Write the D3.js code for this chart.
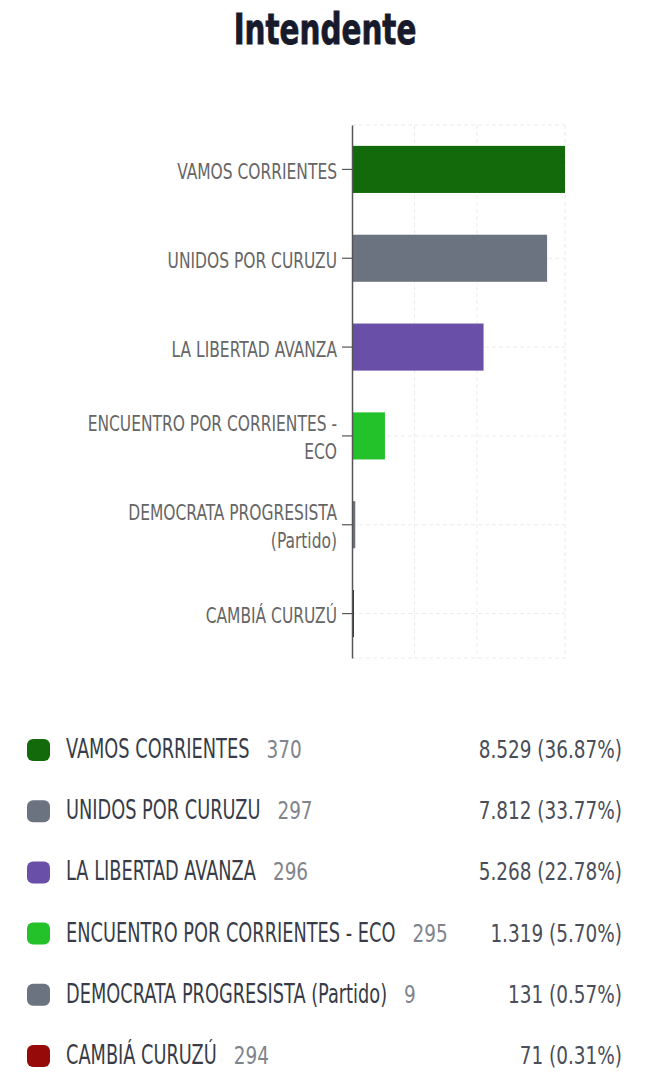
<!DOCTYPE html>
<html>
<head>
<meta charset="utf-8">
<script src="https://cdn.jsdelivr.net/npm/d3@7"></script>
<style>
  body { margin: 0; background: #fff; }
  text { font-family: "DejaVu Sans Condensed", "Liberation Sans Narrow", sans-serif; }
</style>
</head>
<body>
<svg id="chart" width="653" height="1084"></svg>
<script>
// chart data
var parties = ["VAMOS CORRIENTES", "UNIDOS POR CURUZU", "LA LIBERTAD AVANZA",
  "ENCUENTRO POR CORRIENTES - ECO", "DEMOCRATA PROGRESISTA (Partido)", "CAMBIÁ CURUZÚ"];
var lists = ["370", "297", "296", "295", "9", "294"];
var votes = [8529, 7812, 5268, 1319, 131, 71];
var percents = [36.87, 33.77, 22.78, 5.70, 0.57, 0.31];
var colors = ["#136a0b", "#6b7280", "#6a4fa9", "#23c22b", "#6b7280", "#960a0a"];
var gridTicks = [2500, 5000];

var svg = d3.select('#chart');

// number formats: thousands with dot, percent with dot decimals
var esLocale = d3.formatLocale({decimal: ',', thousands: '.', grouping: [3], currency: ['$', '']});
var fmtVotes = esLocale.format(',d');
var fmtPct = d3.format('.2f');

// no narrow font here, so squeeze the condensed one horizontally
function squeeze(k) { return ' scale(' + k + ',1)'; }

// title
svg.append('text')
  .attr('transform', 'translate(325,44)' + squeeze(0.76))
  .attr('text-anchor', 'middle')
  .style('font-size', '43px')
  .style('font-weight', 'bold')
  .style('fill', '#161a2a')
  .style('stroke', '#161a2a')
  .style('stroke-width', 0.8)
  .text('Intendente');

// scales
var x = d3.scaleLinear().domain([0, d3.max(votes)]).range([352, 565]);
var y = d3.scaleBand().domain(parties).range([125, 658]).paddingInner(0.47).paddingOuter(0.235);

var plot = svg.append('g');

// faint dashed grid (vertical ticks, right edge, row centres, top/bottom)
var grid = plot.append('g').attr('class', 'grid')
  .style('stroke', '#ececec').style('stroke-width', 1).style('stroke-dasharray', '4,3');
grid.selectAll('line.v')
  .data(gridTicks.concat([d3.max(votes)]))
  .enter().append('line')
  .attr('x1', function(d) { return x(d); }).attr('x2', function(d) { return x(d); })
  .attr('y1', y.range()[0]).attr('y2', y.range()[1]);
grid.selectAll('line.h')
  .data(parties)
  .enter().append('line')
  .attr('x1', x(0)).attr('x2', x(d3.max(votes)))
  .attr('y1', function(d) { return y(d) + y.bandwidth() / 2; })
  .attr('y2', function(d) { return y(d) + y.bandwidth() / 2; });
grid.selectAll('line.e')
  .data(y.range())
  .enter().append('line')
  .attr('x1', x(0)).attr('x2', x(d3.max(votes)))
  .attr('y1', function(d) { return d; }).attr('y2', function(d) { return d; });

// bars
plot.append('g').selectAll('rect')
  .data(parties)
  .enter().append('rect')
  .attr('x', x(0))
  .attr('y', function(d) { return y(d); })
  .attr('height', y.bandwidth())
  .attr('width', function(d, i) { return Math.max(x(votes[i]) - x(0), 2); })
  .style('fill', function(d, i) { return colors[i]; });

// y axis
var yAxis = plot.append('g')
  .attr('transform', 'translate(' + x(0) + ',0)')
  .call(d3.axisLeft(y).tickSize(10).tickSizeOuter(0));
yAxis.select('.domain').style('stroke', '#555').style('stroke-width', 1.5);
yAxis.selectAll('.tick line').style('stroke', '#555').style('stroke-width', 1.2);
yAxis.selectAll('.tick text').remove();

// tick labels, condensed and wrapped to two lines when long
var labelSqueeze = 0.82, labelMax = 262, lineH = 28;
yAxis.selectAll('.tick').each(function(d) {
  var t = d3.select(this).append('text')
    .attr('text-anchor', 'end')
    .attr('transform', 'translate(-15,0)' + squeeze(labelSqueeze))
    .style('font-size', '21px')
    .style('fill', '#666');
  var words = d.split(' '), lines = [], line = [];
  var probe = t.append('tspan');
  words.forEach(function(w) {
    var test = line.concat([w]).join(' ');
    probe.text(test);
    if (line.length && probe.node().getComputedTextLength() * labelSqueeze > labelMax) {
      lines.push(line.join(' '));
      line = [w];
    } else {
      line.push(w);
    }
  });
  lines.push(line.join(' '));
  probe.remove();
  var off = -(lines.length - 1) * lineH / 2;
  lines.forEach(function(l, i) {
    t.append('tspan').attr('x', 0).attr('y', off + i * lineH).attr('dy', '0.45em').text(l);
  });
});

// legend
var legendTop = 750, legendStep = 61.2, nameSqueeze = 0.76, numSqueeze = 0.82;
var rows = svg.append('g').selectAll('g')
  .data(parties)
  .enter().append('g')
  .attr('transform', function(d, i) { return 'translate(0,' + (legendTop + i * legendStep) + ')'; });

rows.append('rect')
  .attr('x', 27).attr('y', -11)
  .attr('width', 23).attr('height', 22)
  .attr('rx', 6)
  .style('fill', function(d, i) { return colors[i]; });

rows.each(function(d, i) {
  var row = d3.select(this);
  var name = row.append('text')
    .attr('transform', 'translate(66,8)' + squeeze(nameSqueeze))
    .style('font-size', '26px')
    .style('fill', '#383c48')
    .text(d);
  var w = name.node().getComputedTextLength() * nameSqueeze;
  row.append('text')
    .attr('transform', 'translate(' + (66 + w + 17) + ',8)' + squeeze(numSqueeze))
    .style('font-size', '25px')
    .style('fill', '#80848c')
    .text(lists[i]);
  row.append('text')
    .attr('transform', 'translate(622,8)' + squeeze(numSqueeze))
    .attr('text-anchor', 'end')
    .style('font-size', '25px')
    .style('fill', '#4a4e58')
    .text(fmtVotes(votes[i]) + ' (' + fmtPct(percents[i]) + '%)');
});
</script>
</body>
</html>
